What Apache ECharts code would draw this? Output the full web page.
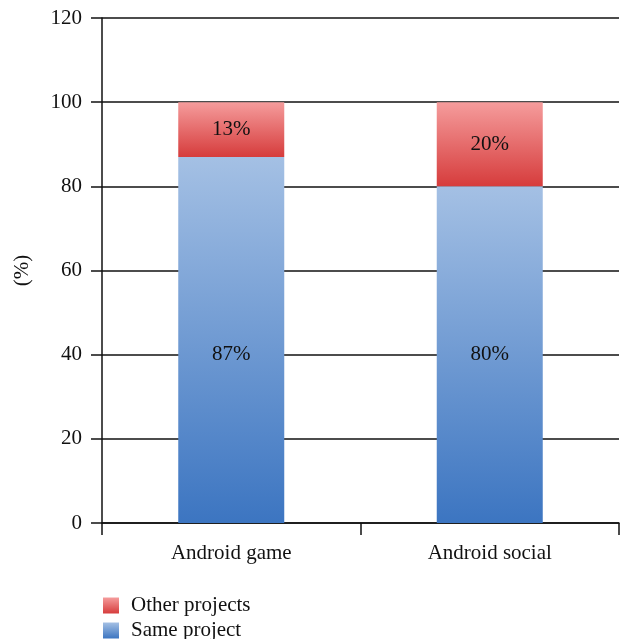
<!DOCTYPE html>
<html>
<head>
<meta charset="utf-8">
<script src="https://cdn.jsdelivr.net/npm/echarts@6/dist/echarts.min.js"></script>
<style>html,body{margin:0;padding:0;background:#fff;}#c{width:620px;height:639px;}</style>
</head>
<body>
<div id="c"></div>
<script>
var categories = ['Android game', 'Android social'];
var sameProject = [87, 80];
var otherProjects = [13, 20];
var yTicks = [0, 20, 40, 60, 80, 100, 120];
var seriesNames = ['Same project', 'Other projects'];

var FONT = 'Liberation Serif';
var FS = 21;
var chart = echarts.init(document.getElementById('c'));
function grad(top, bottom) {
  return new echarts.graphic.LinearGradient(0, 0, 0, 1, [
    {offset: 0, color: top}, {offset: 1, color: bottom}
  ]);
}
var sameData = sameProject.map(function (v, i) {
  return i === 0 ? {value: v, label: {offset: [0, 15]}} : v;
});
function legendAt(name, top) {
  return {
    orient: 'vertical', left: 103, top: top, padding: 0,
    itemWidth: 16, itemHeight: 16, itemGap: 0,
    icon: 'rect',
    data: [name],
    textStyle: {fontFamily: FONT, fontSize: FS, color: '#111', lineHeight: 18, padding: [0, 0, 0, 7]}
  };
}
chart.setOption({
  animation: false,
  textStyle: {fontFamily: FONT, color: '#111'},
  grid: {left: 102, right: 1, top: 18, bottom: 116},
  legend: [legendAt(seriesNames[1], 595), legendAt(seriesNames[0], 620)],
  xAxis: {
    type: 'category', data: categories,
    axisLine: {lineStyle: {color: '#111', width: 1.5}},
    axisTick: {show: true, length: 12, lineStyle: {color: '#111', width: 1.5}},
    axisLabel: {fontFamily: FONT, fontSize: FS, color: '#111', margin: 20}
  },
  yAxis: {
    type: 'value', min: yTicks[0], max: yTicks[yTicks.length - 1], interval: 20,
    name: '(%)', nameLocation: 'middle', nameRotate: 90, nameGap: 69,
    nameTextStyle: {fontFamily: FONT, fontSize: FS, color: '#111'},
    axisLine: {show: true, lineStyle: {color: '#111', width: 1.5}},
    axisTick: {show: true, length: 11, lineStyle: {color: '#111', width: 1.5}},
    axisLabel: {fontFamily: FONT, fontSize: FS, color: '#111', margin: 20},
    splitLine: {show: true, lineStyle: {color: '#111', width: 1.5}}
  },
  series: [
    {
      name: seriesNames[0], type: 'bar', stack: 's', barWidth: 106,
      data: sameData,
      itemStyle: {color: grad('#a4c0e4', '#3c75c1')},
      label: {show: true, position: 'inside', formatter: '{c}%', fontFamily: FONT, fontSize: FS, color: '#111'}
    },
    {
      name: seriesNames[1], type: 'bar', stack: 's', barWidth: 106,
      data: otherProjects,
      itemStyle: {color: grad('#f59c9c', '#d63c3c')},
      label: {show: true, position: 'inside', formatter: '{c}%', fontFamily: FONT, fontSize: FS, color: '#111'}
    }
  ]
});
</script>
</body>
</html>
